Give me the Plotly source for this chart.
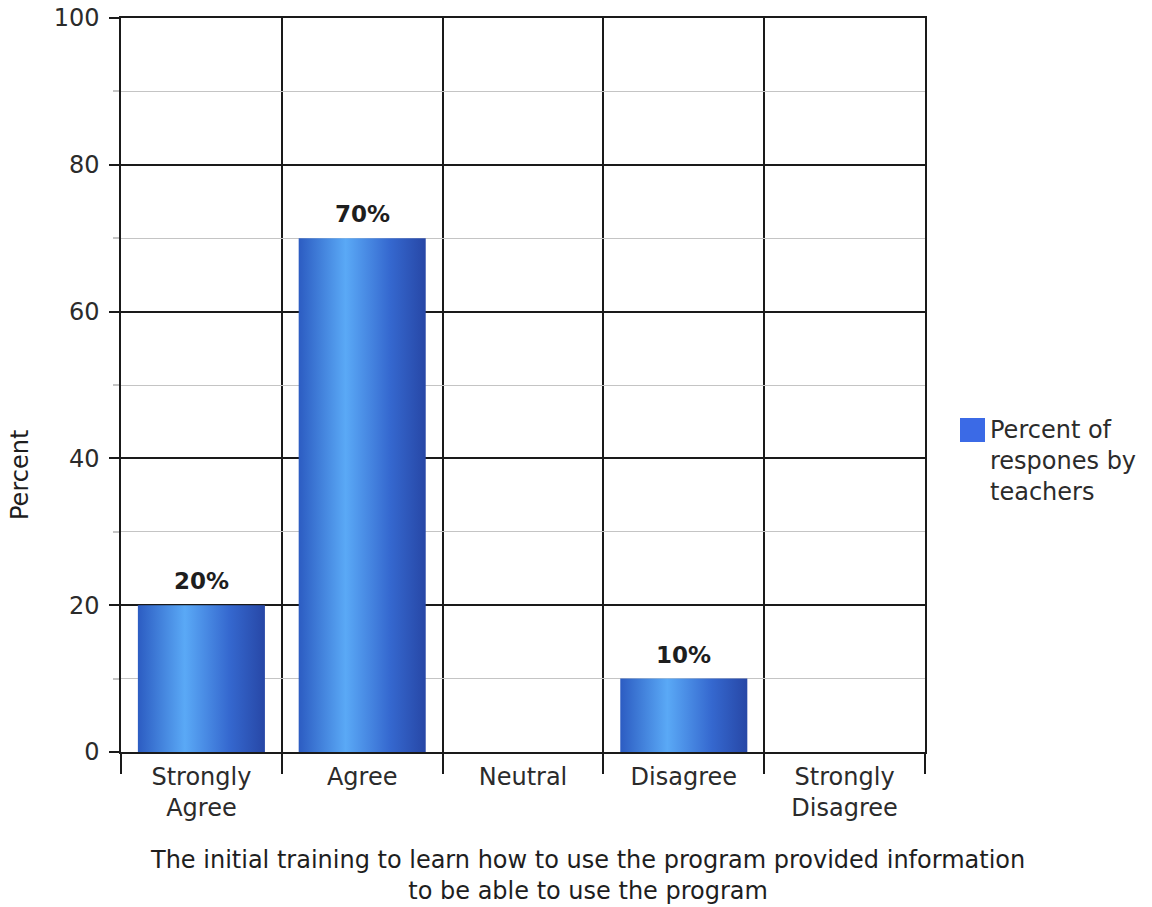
import plotly.graph_objects as go

# Survey responses
categories = ["Strongly<br>Agree", "Agree", "Neutral", "Disagree", "Strongly<br>Disagree"]
percent = [20, 70, 0, 10, 0]
y_ticks = [0, 20, 40, 60, 80, 100]
series_name = "Percent of<br>respones by<br>teachers"
x_title = "The initial training to learn how to use the program provided information<br>to be able to use the program"
y_title = "Percent"

FONT = "DejaVu Sans, Verdana, sans-serif"
TEXT = "#2b2b2b"
LINE = "#1a1a1a"
BAR_WIDTH = 0.79
GRADIENT = [[0.0, "#2c5cc2"], [0.37, "#5aa9f6"], [0.72, "#3568cf"], [1.0, "#2747a6"]]

# Plot area in pixels
L, R, T, B = 121, 925, 18, 752
W, H = 1152, 907


def px(x):
    return (x - L) / (R - L)


def py(y):
    return (B - y) / (B - T)


fig = go.Figure()

centers = [i + 0.5 for i in range(len(categories))]
for cx, v in zip(centers, percent):
    if v <= 0:
        continue
    x0, x1 = cx - BAR_WIDTH / 2, cx + BAR_WIDTH / 2
    fig.add_trace(go.Scatter(
        x=[x0, x1, x1, x0, x0], y=[0, 0, v, v, 0],
        mode="lines", fill="toself", line=dict(width=0),
        fillgradient=dict(type="horizontal", colorscale=GRADIENT),
        hoverinfo="skip", showlegend=False,
    ))
    fig.add_annotation(
        x=cx, y=v, text=f"<b>{v}%</b>", showarrow=False,
        yanchor="bottom", yshift=9,
        font=dict(family=FONT, size=23, color="#1e1e1e"),
    )

fig.update_layout(
    width=W, height=H,
    margin=dict(l=L, r=W - R, t=T, b=H - B),
    plot_bgcolor="white", paper_bgcolor="white",
    showlegend=False,
    font=dict(family=FONT, size=24, color=TEXT),
    xaxis=dict(
        range=[0, len(categories)], automargin=False,
        tickmode="array", tickvals=centers, ticktext=categories,
        ticks="", showgrid=False, zeroline=False,
        showline=True, linecolor=LINE, linewidth=1.5, mirror=True,
        tickfont=dict(family=FONT, size=24, color=TEXT),
        ticklabelstandoff=2,
        minor=dict(tickmode="linear", tick0=0, dtick=1, ticks="outside",
                   ticklen=20, tickcolor=LINE, tickwidth=1.5,
                   showgrid=True, gridcolor=LINE, gridwidth=1.5),
        fixedrange=True,
    ),
    yaxis=dict(
        range=[0, 100], automargin=False,
        tickmode="array", tickvals=y_ticks,
        ticks="outside", ticklen=10, tickcolor=LINE, tickwidth=1.5,
        showgrid=True, gridcolor=LINE, gridwidth=1.5, zeroline=False,
        showline=True, linecolor=LINE, linewidth=1.5, mirror=True,
        tickfont=dict(family=FONT, size=24, color=TEXT),
        ticklabelstandoff=5,
        minor=dict(dtick=10, showgrid=True, gridcolor="#c4c4c4", gridwidth=1,
                   ticks="outside", ticklen=6, tickcolor="#c4c4c4"),
        fixedrange=True,
    ),
)

# Axis titles
fig.add_annotation(xref="paper", yref="paper", x=px(587), y=py(875),
                   xanchor="center", yanchor="middle", text=x_title,
                   showarrow=False, font=dict(family=FONT, size=24, color="#1e1e1e"))
fig.add_annotation(xref="paper", yref="paper", x=px(20), y=py(475),
                   xanchor="center", yanchor="middle", text=y_title, textangle=-90,
                   showarrow=False, font=dict(family=FONT, size=24, color="#1e1e1e"))

# Legend swatch and label
fig.add_shape(type="rect", xref="paper", yref="paper",
              x0=px(960), x1=px(985), y0=py(442), y1=py(418),
              fillcolor="#3b6ae6", line=dict(width=0))
fig.add_annotation(xref="paper", yref="paper", x=px(988), y=py(414),
                   xanchor="left", yanchor="top", align="left",
                   text=series_name, showarrow=False,
                   font=dict(family=FONT, size=24, color=TEXT))

fig.write_html("out.html")
